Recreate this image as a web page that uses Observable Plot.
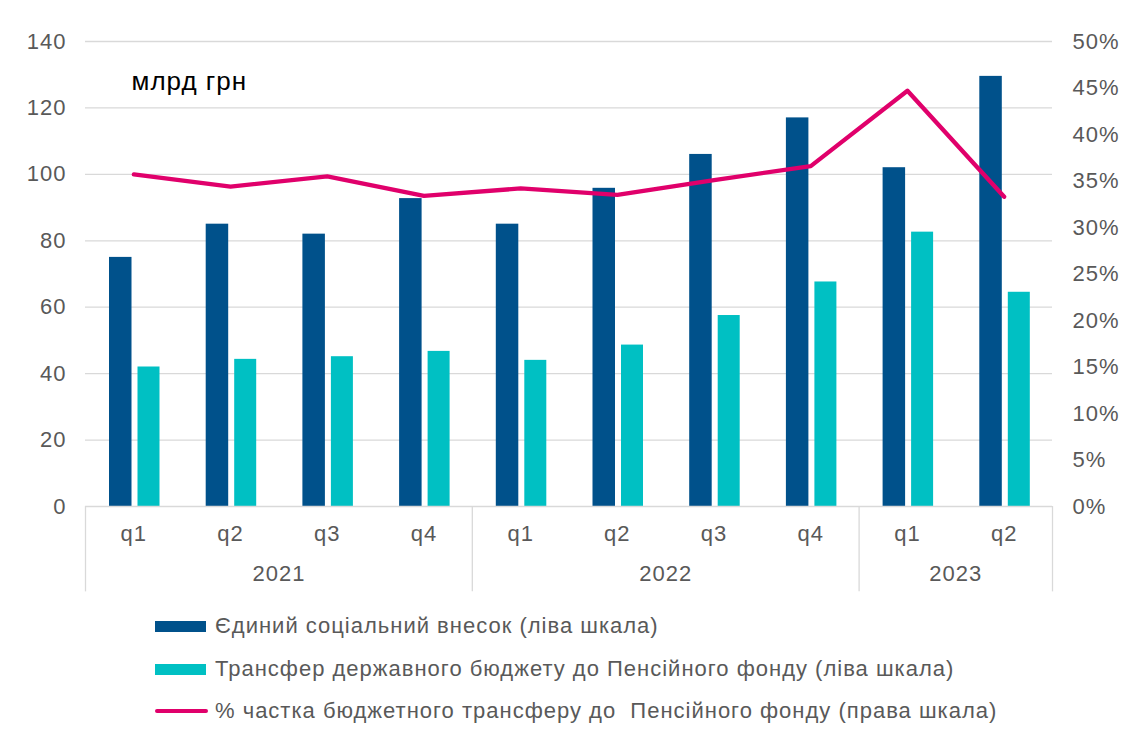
<!DOCTYPE html>
<html>
<head>
<meta charset="utf-8">
<script src="https://cdn.jsdelivr.net/npm/d3@7"></script>
<script src="https://cdn.jsdelivr.net/npm/@observablehq/plot@0.6"></script>
<style>
  body { margin: 0; background: #fff; font-family: "Liberation Sans", Arial, sans-serif; }
  #chart svg { display: block; }
  .legend { position: relative; height: 133px; }
  .row { position: absolute; left: 155px; display: flex; align-items: center; height: 30px; }
  .sw { width: 51px; height: 11px; margin-right: 9px; }
  .swl { width: 53px; height: 4px; margin-right: 7px; border-radius: 2px; }
  .lt { font-size: 22px; color: #595959; white-space: pre; letter-spacing: 1px; }
</style>
</head>
<body>
<div id="chart"></div>
<div class="legend" id="legend"></div>
<script>
const quarters = ["2021 q1","2021 q2","2021 q3","2021 q4","2022 q1","2022 q2","2022 q3","2022 q4","2023 q1","2023 q2"];
const esv      = [75, 85, 82, 92.7, 85, 95.8, 106, 117, 102, 129.5];
const transfer = [42, 44.3, 45.1, 46.7, 44, 48.6, 57.5, 67.6, 82.6, 64.5];
const sharePct = [35.7, 34.4, 35.5, 33.4, 34.2, 33.5, 35.1, 36.6, 44.7, 33.3];
const leftTicks = [0, 20, 40, 60, 80, 100, 120, 140];
const rightTicks = [0, 5, 10, 15, 20, 25, 30, 35, 40, 45, 50];
const years = [{label: "2021", at: "2021 q2"}, {label: "2022", at: "2022 q2"}, {label: "2023", at: "2023 q1"}];
const separators = ["2021 q1", "2022 q1", "2023 q1"];
const lastQuarter = "2023 q2";
const unitLabel = "млрд грн";
const seriesNames = [
  "Єдиний соціальний внесок (ліва шкала)",
  "Трансфер державного бюджету до Пенсійного фонду (ліва шкала)",
  "% частка бюджетного трансферу до  Пенсійного фонду (права шкала)"
];
const colors = ["#00518b", "#00c0c3", "#e0006b"];

const pctToLeft = 140 / 50;
const rows = quarters.map((q, i) => ({q, esv: esv[i], transfer: transfer[i], share: sharePct[i]}));

const W = 1127, H = 605;
const mL = 85, mR = 75, mT = 41, mB = 99;
const band = (W - mL - mR) / quarters.length;
const grey = "#595959", gridC = "#d9d9d9";
const fs = 22;

const chart = Plot.plot({
  width: W, height: H,
  marginLeft: mL, marginRight: mR, marginTop: mT, marginBottom: mB,
  style: {fontFamily: "'Liberation Sans', Arial, sans-serif", background: "#fff", overflow: "visible", letterSpacing: "1px"},
  x: {type: "band", domain: quarters, padding: 0, round: false, label: null},
  y: {domain: [0, 140], label: null},
  marks: [
    Plot.ruleY(leftTicks.filter(d => d > 0), {stroke: gridC, strokeWidth: 1.3}),
    Plot.barY(rows, {x: "q", y: "esv", fill: colors[0], insetLeft: 24, insetRight: band - 46.5}),
    Plot.barY(rows, {x: "q", y: "transfer", fill: colors[1], insetLeft: 52.5, insetRight: band - 74.5}),
    Plot.ruleY([0], {stroke: gridC, strokeWidth: 1.3}),
    Plot.ruleX(separators, {x: d => d, dx: -band / 2, y1: 0, y2: -25.7, stroke: gridC, strokeWidth: 1.3}),
    Plot.ruleX([lastQuarter], {x: d => d, dx: band / 2, y1: 0, y2: -25.7, stroke: gridC, strokeWidth: 1.3}),
    Plot.line(rows, {x: "q", y: d => d.share * pctToLeft, stroke: colors[2], strokeWidth: 4.3, strokeLinejoin: "round", strokeLinecap: "round"}),
    Plot.axisY(leftTicks, {anchor: "left", tickSize: 0, tickPadding: 19, fontSize: fs, color: grey, label: null}),
    Plot.axisY(rightTicks.map(v => v * pctToLeft), {anchor: "right", tickSize: 0, tickPadding: 20, fontSize: fs, color: grey, label: null,
      tickFormat: d => Math.round(d / pctToLeft) + "%"}),
    Plot.axisX({tickSize: 0, tickPadding: 19, fontSize: fs, color: grey, label: null, tickFormat: d => d.split(" ")[1]}),
    Plot.text(years, {x: "at", text: "label", dx: band / 2, frameAnchor: "bottom", dy: 74, fontSize: fs, fill: grey}),
    Plot.text([unitLabel], {frameAnchor: "top-left", dx: 46, dy: 30, textAnchor: "start", fontSize: 26, fill: "#000", style: "word-spacing: 8px; letter-spacing: 0.7px"})
  ]
});
document.getElementById("chart").appendChild(chart);

const legend = document.getElementById("legend");
const tops = [6, 49, 91];
seriesNames.forEach((name, i) => {
  const row = document.createElement("div");
  row.className = "row";
  row.style.top = tops[i] + "px";
  const sw = document.createElement("div");
  sw.className = i < 2 ? "sw" : "swl";
  sw.style.background = colors[i];
  const t = document.createElement("span");
  t.className = "lt";
  t.textContent = name;
  row.appendChild(sw); row.appendChild(t);
  legend.appendChild(row);
});
</script>
</body>
</html>
